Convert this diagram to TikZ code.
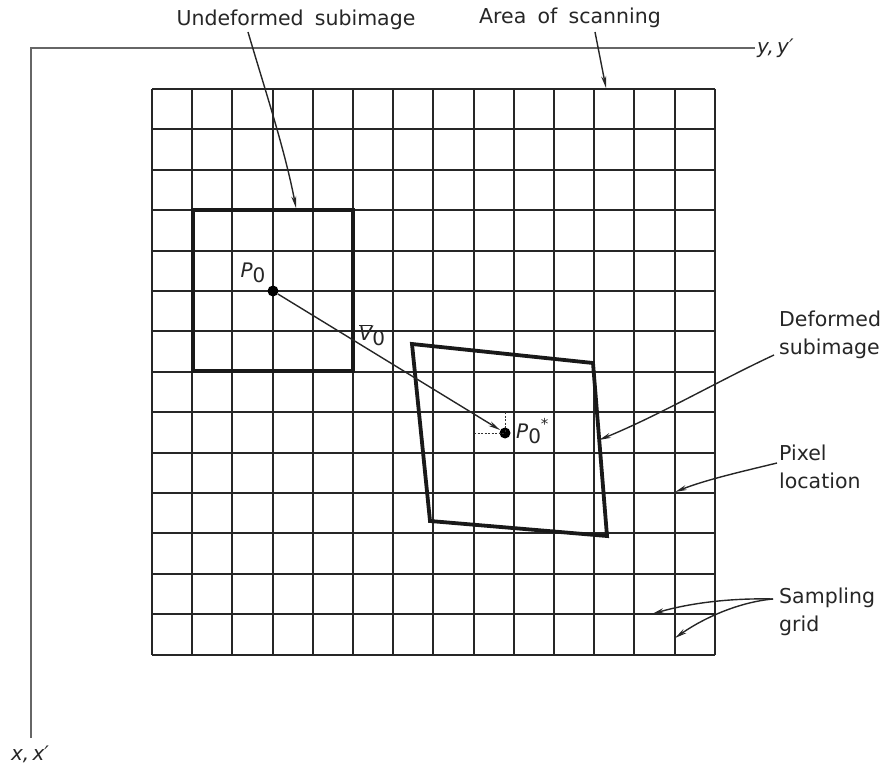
\documentclass[tikz,border=0pt]{standalone}
\usepackage{fontspec}
\setmainfont{DejaVu Sans}
\usetikzlibrary{arrows.meta}
\newcommand\mylblfont{\fontsize{20.5}{28}\selectfont\spaceskip=0.55em plus 0.1em\relax}
\begin{document}
\begin{tikzpicture}[x=1pt,y=-1pt,
  lbl/.style={font=\mylblfont, inner sep=0pt, align=left, text=black!85},
  ital/.style={font=\fontsize{20}{22}\selectfont\itshape, inner sep=0pt, text=black!85},
  gridline/.style={line width=2pt, black!85},
  subbox/.style={line width=3.8pt, black!90, line join=miter},
  pointer/.style={line width=1.4pt, black!85, -{Stealth[length=12pt,width=5pt]}},
  axisline/.style={line width=1.3pt, black!60},
  dotnode/.style={circle, fill=black, inner sep=0pt, minimum size=11pt},
  guide/.style={line width=0.9pt, black!80, dash pattern=on 2pt off 1.5pt}]
\useasboundingbox (0,0) rectangle (883,767);
% axes
\coordinate (O) at (31,48);
\coordinate (yend) at (755,48);
\coordinate (xend) at (31,738);
\draw[axisline] (xend) -- (O) -- (yend);
\node[ital, anchor=west] (ylab) at (757,48) {y,\,y′};
\node[ital] (xlab) at (30,754) {x,\,x′};
% sampling grid
\foreach \x in {152,192,232,273,313,353,393,433,474,514,554,594,634,675,715}
  \draw[gridline] (\x,89) -- (\x,655);
\foreach \y in {89,129,170,210,251,291,331,372,412,453,493,533,574,614,655}
  \draw[gridline] (152,\y) -- (715,\y);
% undeformed subimage
\coordinate (u1) at (193,210);
\coordinate (u3) at (353,371);
\draw[subbox] (u1) rectangle (u3);
% deformed subimage
\coordinate (d1) at (412,344);
\coordinate (d2) at (593,363);
\coordinate (d3) at (607,536);
\coordinate (d4) at (430,521);
\draw[subbox] (d1) -- (d2) -- (d3) -- (d4) -- cycle;
% points
\node[dotnode] (p0) at (273,291) {};
\node[dotnode] (p0s) at (505,433) {};
\coordinate (gx) at (474,433);
\coordinate (gy) at (505,412);
\draw[guide] (gx) -- (p0s.center);
\draw[guide] (gy) -- (p0s.center);
\draw[pointer] (p0) -- (p0s);
\node[ital] (p0lab) at (253,273) {P\raisebox{-0.45ex}{\upshape 0}};
\node[ital] (v0lab) at (372,335) {$\overline{\mbox{\itshape V}}$\raisebox{-0.45ex}{\upshape 0}};
\node[ital, anchor=west] (p0slab) at (516,431) {P\raisebox{-0.45ex}{\upshape 0}\raisebox{0.8ex}{\upshape\fontsize{15}{15}\selectfont *}};
% labels and pointers
\node[lbl] (tund) at (296,20) {Undeformed subimage};
\coordinate (a1s) at (248,32);
\coordinate (a1e) at (296,208);
\draw[pointer] (a1s) .. controls (265,90) and (285,150) .. (a1e);
\node[lbl] (tarea) at (570,18) {Area of scanning};
\coordinate (a2s) at (595,32);
\coordinate (a2e) at (606,88);
\draw[pointer] (a2s) -- (a2e);
\node[lbl, anchor=north west] (tdef) at (779,311) {Deformed\\subimage};
\coordinate (a3s) at (774,355);
\coordinate (a3e) at (599,440);
\draw[pointer] (a3s) .. controls (720,380) and (660,415) .. (a3e);
\node[lbl, anchor=north west] (tpix) at (779,445) {Pixel\\location};
\coordinate (a4s) at (777,463);
\coordinate (a4e) at (675,492);
\draw[pointer] (a4s) .. controls (740,472) and (705,480) .. (a4e);
\node[lbl, anchor=north west] (tsam) at (779,588) {Sampling\\grid};
\coordinate (a5s) at (773,599);
\coordinate (a5e) at (652,614);
\coordinate (a6e) at (675,638);
\draw[pointer] (a5s) .. controls (730,598) and (690,603) .. (a5e);
\draw[pointer] (a5s) .. controls (740,602) and (705,617) .. (a6e);
\end{tikzpicture}
\end{document}
